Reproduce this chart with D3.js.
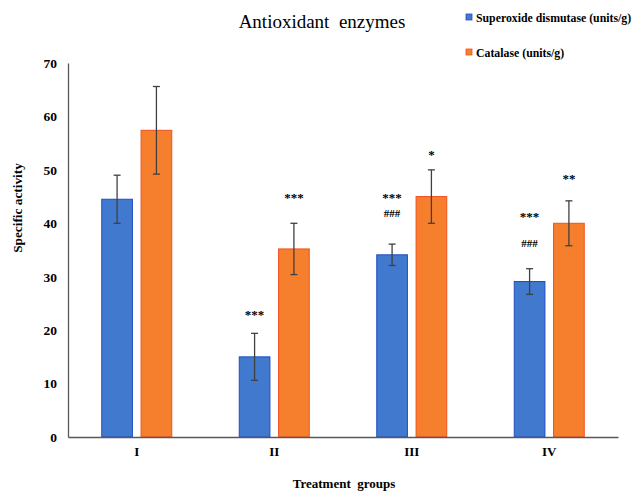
<!DOCTYPE html>
<html>
<head>
<meta charset="utf-8">
<script src="https://cdnjs.cloudflare.com/ajax/libs/d3/7.8.5/d3.min.js"></script>
<style>
  body { margin: 0; background: #fff; }
  text { font-family: "Liberation Serif", "DejaVu Serif", serif; fill: #000; white-space: pre; }
</style>
</head>
<body>
<div id="chart"></div>
<script>
var groups = ["I", "II", "III", "IV"];
var seriesNames = ["Superoxide dismutase (units/g)", "Catalase (units/g)"];
var sodValues = [44.5, 15.0, 34.1, 29.1];
var sodErrors = [4.5, 4.4, 2.0, 2.4];
var catValues = [57.4, 35.2, 45.0, 40.0];
var catErrors = [8.2, 4.8, 5.0, 4.2];
// significance marks and the level (in y units) where each one sits
var sodMarks = [[], ["***"], ["***", "###"], ["***", "###"]];
var sodMarkLevels = [[], [23.4], [45.3, 42.0], [41.7, 36.4]];
var catMarks = [[], ["***"], ["*"], ["**"]];
var catMarkLevels = [[], [45.3], [53.3], [48.9]];
var yTicks = [0, 10, 20, 30, 40, 50, 60, 70];

var width = 639, height = 491;
var margin = { top: 63, right: 21, bottom: 54, left: 68 };
var fills = ["#4179cf", "#f67f2e"];
var strokes = ["#1f4ec0", "#f2501e"];

var svg = d3.select("#chart").append("svg")
  .attr("width", width).attr("height", height);

var x0 = d3.scaleBand().domain(groups)
  .range([margin.left, width - margin.right]).paddingInner(0).paddingOuter(0);
var x1 = d3.scaleBand().domain([0, 1])
  .range([x0.bandwidth() / 2 - 35, x0.bandwidth() / 2 + 35]).paddingInner(0.22).paddingOuter(0);
var y = d3.scaleLinear().domain([0, 70]).range([height - margin.bottom, margin.top]);

// y axis
var yAxis = svg.append("g")
  .attr("transform", "translate(" + margin.left + ",0)")
  .call(d3.axisLeft(y).tickValues(yTicks).tickSize(0).tickPadding(11));
yAxis.select(".domain").attr("stroke", "#595959").attr("stroke-width", 1.3);
yAxis.selectAll("text").style("font-family", "Liberation Serif").style("font-size", "13.5px")
  .style("font-weight", "bold").attr("fill", "#000");

var rows = groups.map(function (g, i) {
  return [
    { g: g, s: 0, v: sodValues[i], e: sodErrors[i], m: sodMarks[i], ml: sodMarkLevels[i] },
    { g: g, s: 1, v: catValues[i], e: catErrors[i], m: catMarks[i], ml: catMarkLevels[i] }
  ];
});

var gGroups = svg.append("g").selectAll("g").data(rows).enter().append("g")
  .attr("transform", function (d, i) { return "translate(" + x0(groups[i]) + ",0)"; });

var bars = gGroups.selectAll("g.bar").data(function (d) { return d; }).enter()
  .append("g").attr("class", "bar");

bars.append("rect")
  .attr("x", function (d) { return x1(d.s); })
  .attr("y", function (d) { return y(d.v); })
  .attr("width", x1.bandwidth())
  .attr("height", function (d) { return y(0) - y(d.v); })
  .attr("fill", function (d) { return fills[d.s]; })
  .attr("stroke", function (d) { return strokes[d.s]; })
  .attr("stroke-width", 1);

// error bars
var cx = function (d) { return x1(d.s) + x1.bandwidth() / 2; };
bars.append("line")
  .attr("x1", cx).attr("x2", cx)
  .attr("y1", function (d) { return y(d.v + d.e); })
  .attr("y2", function (d) { return y(d.v - d.e); })
  .attr("stroke", "#404040").attr("stroke-width", 1.3);
[1, -1].forEach(function (sign) {
  bars.append("line")
    .attr("x1", function (d) { return cx(d) - 3.5; })
    .attr("x2", function (d) { return cx(d) + 3.5; })
    .attr("y1", function (d) { return y(d.v + sign * d.e); })
    .attr("y2", function (d) { return y(d.v + sign * d.e); })
    .attr("stroke", "#404040").attr("stroke-width", 1.3);
});

// significance marks
bars.each(function (d) {
  d3.select(this).selectAll("text.mark").data(d.m).enter().append("text")
    .attr("class", "mark")
    .attr("x", cx(d))
    .attr("y", function (t, k) { return y(d.ml[k]) + (t[0] === "*" ? 7 : 4); })
    .attr("text-anchor", "middle")
    .style("font-size", function (t) { return t[0] === "*" ? "13px" : "11px"; })
    .style("font-weight", "bold")
    .text(function (t) { return t; });
});

// x axis
var xAxis = svg.append("g")
  .attr("transform", "translate(0," + y(0) + ")")
  .call(d3.axisBottom(x0).tickSize(0).tickPadding(10));
xAxis.select(".domain").attr("stroke", "#595959").attr("stroke-width", 1.5);
xAxis.selectAll("text").style("font-family", "Liberation Serif").style("font-size", "13px")
  .style("font-weight", "bold").attr("fill", "#000");

// titles
svg.append("text").attr("x", 322).attr("y", 28).attr("text-anchor", "middle")
  .style("font-size", "19px").text("Antioxidant  enzymes");
svg.append("text").attr("x", 344).attr("y", 488).attr("text-anchor", "middle")
  .style("font-size", "13px").style("font-weight", "bold").text("Treatment  groups");
svg.append("text").attr("transform", "translate(22,208) rotate(-90)").attr("text-anchor", "middle")
  .style("font-size", "13.3px").style("font-weight", "bold").text("Specific activity");

// legend
var legend = svg.append("g").selectAll("g").data(seriesNames).enter().append("g")
  .attr("transform", function (d, i) { return "translate(466," + (18 + i * 35) + ")"; });
legend.append("rect").attr("x", 0).attr("y", -4).attr("width", 6).attr("height", 6)
  .attr("fill", function (d, i) { return fills[i]; })
  .attr("stroke", function (d, i) { return strokes[i]; }).attr("stroke-width", 0.8);
legend.append("text").attr("x", 10).attr("y", 3.5)
  .style("font-size", "11.8px").style("font-weight", "bold").text(function (d) { return d; });
</script>
</body>
</html>
